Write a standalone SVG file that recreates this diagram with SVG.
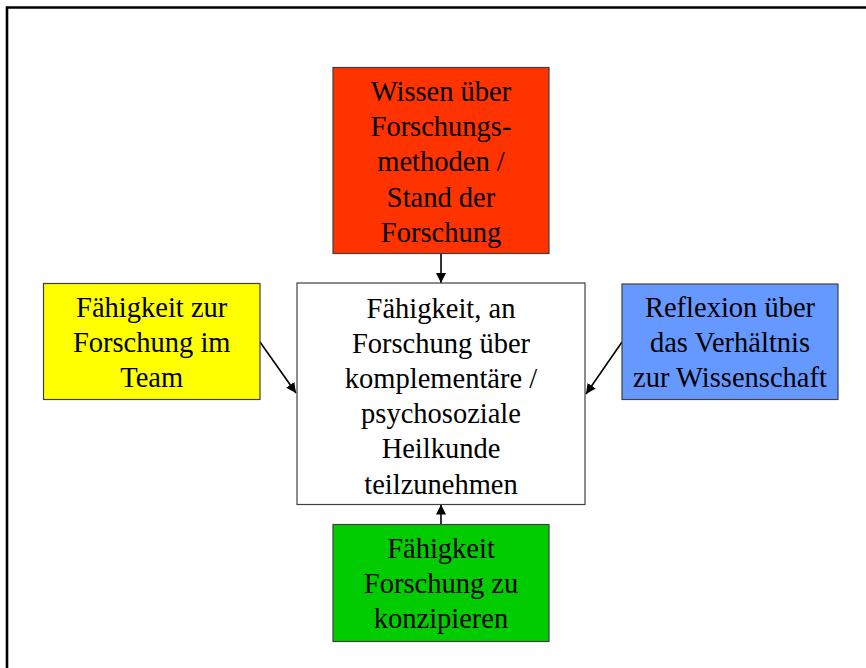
<svg xmlns="http://www.w3.org/2000/svg" width="866" height="668" viewBox="0 0 866 668">
<style>
.box{stroke:#404040;stroke-width:1.2}
.t{font-family:"Liberation Serif","Times New Roman",serif;font-size:28.5px;fill:#000;text-anchor:middle}
.c{stroke:#000;stroke-width:1.6;fill:none;marker-end:url(#ah)}
</style>
<defs>
<marker id="ah" viewBox="0 0 10 10" refX="10" refY="5" markerWidth="10" markerHeight="10" markerUnits="userSpaceOnUse" orient="auto">
<path d="M0,0 L10,5 L0,10 z" fill="#000"/>
</marker>
</defs>
<rect width="866" height="668" fill="#fff"/>
<path d="M7,668 V7.5 H866" fill="none" stroke="#000" stroke-width="2.6"/>
<g id="connectors">
<line class="c" x1="441" y1="253" x2="441" y2="283"/>
<line class="c" x1="441" y1="524" x2="441" y2="504.5"/>
<line class="c" x1="260" y1="342" x2="296" y2="393"/>
<line class="c" x1="622" y1="342" x2="586" y2="394"/>
</g>
<g id="wissen">
<rect class="box" x="333" y="67.5" width="216" height="186" fill="#FF3300"/>
<text class="t" x="441" y="100.7">Wissen über</text>
<text class="t" x="441" y="136">Forschungs-</text>
<text class="t" x="441" y="171">methoden /</text>
<text class="t" x="441" y="206.5">Stand der</text>
<text class="t" x="441" y="241.5">Forschung</text>
</g>
<g id="center">
<rect class="box" x="297" y="283" width="288" height="221.5" fill="#fff"/>
<text class="t" x="441" y="317.5">Fähigkeit, an</text>
<text class="t" x="441" y="352.7">Forschung über</text>
<text class="t" x="441" y="387.9">komplementäre /</text>
<text class="t" x="441" y="423.1">psychosoziale</text>
<text class="t" x="441" y="458.3">Heilkunde</text>
<text class="t" x="441" y="493.5">teilzunehmen</text>
</g>
<g id="team">
<rect class="box" x="43.5" y="283.5" width="216.5" height="116" fill="#FFFF00"/>
<text class="t" x="151.7" y="316.7">Fähigkeit zur</text>
<text class="t" x="151.7" y="352">Forschung im</text>
<text class="t" x="151.7" y="387.3">Team</text>
</g>
<g id="reflexion">
<rect class="box" x="622" y="284" width="216" height="115.5" fill="#6699FF"/>
<text class="t" x="730" y="316.7">Reflexion über</text>
<text class="t" x="730" y="352.3">das Verhältnis</text>
<text class="t" x="730" y="387.3">zur Wissenschaft</text>
</g>
<g id="konzipieren">
<rect class="box" x="333" y="524.5" width="216" height="117" fill="#00CC00"/>
<text class="t" x="441" y="557.7">Fähigkeit</text>
<text class="t" x="441" y="593">Forschung zu</text>
<text class="t" x="441" y="628.3">konzipieren</text>
</g>
</svg>
